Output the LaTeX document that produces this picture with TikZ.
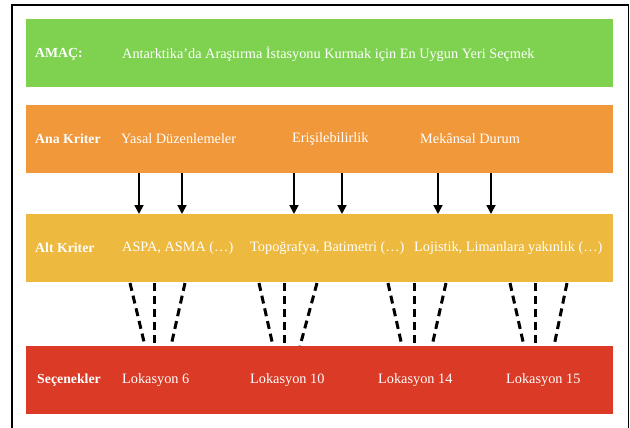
\documentclass[tikz,border=0pt]{standalone}
\usepackage{fontspec}
\setmainfont{Liberation Serif}
\usetikzlibrary{arrows.meta}
\definecolor{cgreen}{RGB}{126,210,80}
\definecolor{corange}{RGB}{240,152,58}
\definecolor{cyellow}{RGB}{237,185,62}
\definecolor{cred}{RGB}{218,58,38}
\begin{document}
\begin{tikzpicture}[x=1pt,y=-1pt,
  band/.style={draw=none,inner sep=0pt,minimum width=587pt,minimum height=68pt,anchor=north west},
  lbl/.style={text=white,font=\fontsize{13.8}{15}\selectfont\bfseries,anchor=west,inner sep=0pt},
  txt/.style={text=white,font=\fontsize{14.3}{16}\selectfont,anchor=west,inner sep=0pt},
  arr/.style={draw=black,line width=1.8pt,-{Triangle[length=9pt,width=9pt]}},
  dsh/.style={draw=black,line width=3pt,dash pattern=on 8pt off 5pt}]
\useasboundingbox (0,0) rectangle (630,428);
\fill[white] (0,0) rectangle (630,428);
\draw[line width=1.6pt] (12,428) -- (12,5) -- (628.5,5) -- (628.5,428);
% bands
\node[band,fill=cgreen] (goal) at (26,19) {};
\node[band,fill=corange] (ana) at (26,105) {};
\node[band,fill=cyellow] (alt) at (26,214) {};
\node[band,fill=cred] (sec) at (26,346) {};
% texts
\node[lbl] (tgoal) at (35,54) {AMAÇ:};
\node[txt] (goaltext) at (122,54) {Antarktika’da Araştırma İstasyonu Kurmak için En Uygun Yeri Seçmek};
\node[lbl] (tana) at (35,139) {Ana Kriter};
\node[txt] (a1) at (121,139) {Yasal Düzenlemeler};
\node[txt] (a2) at (292,139) {Erişilebilirlik};
\node[txt] (a3) at (420,139) {Mekânsal Durum};
\node[lbl] (talt) at (35,248) {Alt Kriter};
\node[txt] (b1) at (122,248) {ASPA, ASMA (…)};
\node[txt] (b2) at (250,248) {Topoğrafya, Batimetri (…)};
\node[txt] (b3) at (414,248) {Lojistik, Limanlara yakınlık (…)};
\node[lbl] (tsec) at (37,380) {Seçenekler};
\node[txt] (c1) at (122,380) {Lokasyon 6};
\node[txt] (c2) at (250,380) {Lokasyon 10};
\node[txt] (c3) at (378,380) {Lokasyon 14};
\node[txt] (c4) at (506,380) {Lokasyon 15};
% arrow endpoints
\foreach \i/\x in {1/139,2/182,3/294,4/342,5/438,6/491}{
  \coordinate (as\i) at (\x,173);
  \coordinate (ae\i) at (\x,214);
  \draw[arr] (as\i) -- (ae\i);
}
% dashed connectors
\foreach \i/\xt/\xb in {1/130/145,2/154/154,3/185/171,
                        4/259/273,5/284/284,6/317/300,
                        7/388/402,8/414/414,9/446/432,
                        10/510/524,11/535/535,12/567/554}{
  \coordinate (ds\i) at (\xt,283);
  \coordinate (de\i) at (\xb,346);
  \draw[dsh] (ds\i) -- (de\i);
}
\end{tikzpicture}
\end{document}
